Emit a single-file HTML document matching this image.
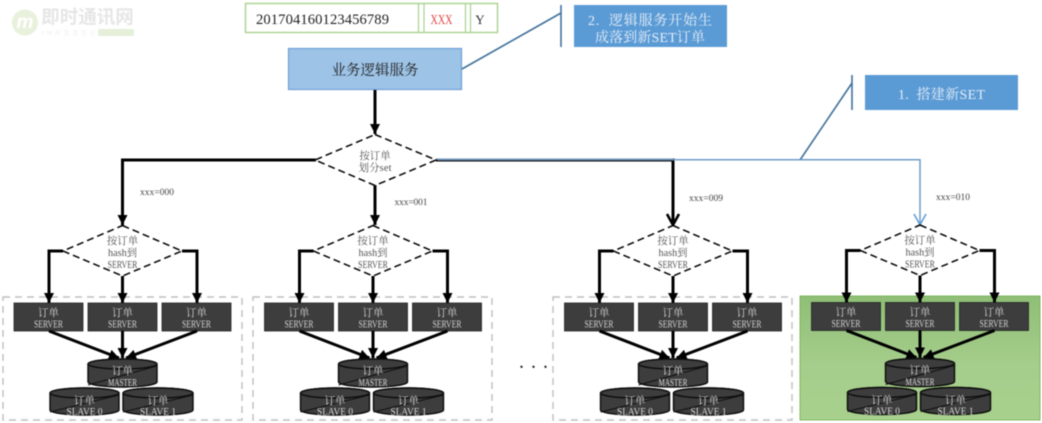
<!DOCTYPE html>
<html><head><meta charset="utf-8"><style>
html,body{margin:0;padding:0;background:#fff;width:1042px;height:423px;overflow:hidden}
svg{display:block;filter:blur(.4px)}
text{font-family:"Liberation Serif","Noto Serif CJK SC",serif;text-anchor:middle}
.sv{fill:#3d3d3d;stroke:#222;stroke-width:.8}
.st{fill:#d4d4d4;font-size:10.5px}
.dt{fill:#555;font-size:10.5px}
.cy{fill:#3d3d3d;stroke:#0c0c0c;stroke-width:1.4}
.ct{fill:#d8d8d8;font-size:10.5px}
.th{fill:none;stroke:#000;stroke-width:3}
.dm{fill:#fff;stroke:#000;stroke-width:1.5;stroke-dasharray:7 4}
.lb{fill:#444;font-size:9.5px}
</style></head><body>
<svg width="1042" height="423" viewBox="0 0 1042 423" xmlns="http://www.w3.org/2000/svg">
<defs>
<marker id="a" markerUnits="userSpaceOnUse" markerWidth="11" markerHeight="12" refX="10" refY="6" orient="auto"><path d="M0 1L10 6L0 11Z" fill="#000"/></marker>
<marker id="b" markerUnits="userSpaceOnUse" markerWidth="13" markerHeight="14" refX="12" refY="7" orient="auto"><path d="M1 1L12 7L1 13" fill="none" stroke="#5b9bd5" stroke-width="1.5"/></marker>
<marker id="c" markerUnits="userSpaceOnUse" markerWidth="13" markerHeight="14" refX="12" refY="7" orient="auto"><path d="M1 1L12 7L1 13" fill="none" stroke="#000" stroke-width="2.6"/></marker>
<linearGradient id="g" x1="0" y1="0" x2="0" y2="1"><stop offset="0" stop-color="#8fbf77"/><stop offset=".55" stop-color="#a5cd8b"/><stop offset="1" stop-color="#a9d18e"/></linearGradient>
</defs>

<!-- logo -->
<g>
<circle cx="25" cy="22.500" r="13" fill="#e8f1dc"/>
<text x="25" y="28" style="font-family:'Liberation Sans',sans-serif;font-size:19px;font-weight:bold;font-style:italic" fill="#fff">m</text>
<text x="87.500" y="23.500" style="font-family:'Liberation Sans','Noto Sans CJK SC',sans-serif;font-size:18.500px;font-weight:bold" fill="#e6e6e6">即时通讯网</text>
<text x="69" y="35" style="font-size:6.500px" fill="#eeeeee" textLength="54" lengthAdjust="spacing">IM开发者社区</text>
<rect x="98" y="29" width="36" height="7" rx="2" fill="#e6efd9"/>
</g>

<!-- order id -->
<rect x="245.500" y="3.500" width="252" height="29" fill="#fff" stroke="#a9d18e" stroke-width="1.4"/>
<path d="M418.500 3.500V32.500M424 3.500V32.500M465.500 3.500V32.500M470.500 3.500V32.500" stroke="#a9d18e" stroke-width="1.200" fill="none"/>
<text x="322.500" y="24" font-size="14.600" fill="#222" textLength="133">201704160123456789</text>
<text x="441.500" y="24" font-size="13.500" fill="#e04040" textLength="22" lengthAdjust="spacingAndGlyphs">XXX</text>
<text x="480" y="24" font-size="13" fill="#333">Y</text>

<!-- service -->
<rect x="288.500" y="48.500" width="173" height="41" fill="#9dc3e6" stroke="#6f9fd8" stroke-width="1.200"/>
<text x="375" y="75" font-size="14.500" fill="#222">业务逻辑服务</text>

<!-- callouts -->
<path d="M462 69L561 13M561 5V47" fill="none" stroke="#41719c" stroke-width="1.600"/>
<rect x="574" y="5" width="153" height="42" fill="#5b9bd5"/>
<text x="650" y="25" font-size="14" fill="#e6eef8" xml:space="preserve" textLength="124" lengthAdjust="spacing">2.  逻辑服务开始生</text>
<text x="650" y="42" font-size="14" fill="#e6eef8" textLength="110" lengthAdjust="spacing">成落到新SET订单</text>
<path d="M800 160L852 83M852 75V110" fill="none" stroke="#41719c" stroke-width="1.600"/>
<rect x="865" y="75" width="153" height="35" fill="#5b9bd5"/>
<text x="941.500" y="99" font-size="14" fill="#e6eef8" xml:space="preserve" textLength="87" lengthAdjust="spacing">1.  搭建新SET</text>

<!-- top connectors -->
<path class="th" d="M375 90V134" marker-end="url(#a)"/>
<path class="th" d="M316 160H122.500V225" marker-end="url(#a)"/>
<path class="th" d="M375 185V225" marker-end="url(#a)"/>
<path class="th" d="M436 160H673V225" marker-end="url(#c)"/>
<path d="M436 159.500H673" stroke="#6d90b5" stroke-width="2" fill="none"/>
<path d="M673 159.800H920V225" fill="none" stroke="#6d9cc8" stroke-width="1.500" marker-end="url(#b)"/>
<path class="dm" d="M375 134.500L436 160L375 185.500L315 160Z"/>
<text class="dt" x="375" y="159">按订单</text>
<text class="dt" x="375" y="171" textLength="33" lengthAdjust="spacing">划分set</text>

<text class="lb" x="157" y="195" textLength="34">xxx=000</text>
<text class="lb" x="411" y="205" textLength="33">xxx=001</text>
<text class="lb" x="706" y="201" textLength="34">xxx=009</text>
<text class="lb" x="953" y="200" textLength="34">xxx=010</text>

<!-- ... -->
<text x="537" y="368" font-size="20" fill="#222" letter-spacing="7">...</text>

<!-- Panel backgrounds -->
<rect x="3" y="297" width="239" height="123" fill="none" stroke="#bfbfbf" stroke-width="1.400" stroke-dasharray="7 5"/>
<rect x="253" y="297" width="239" height="123" fill="none" stroke="#bfbfbf" stroke-width="1.400" stroke-dasharray="7 5"/>
<rect x="553" y="297" width="239" height="123" fill="none" stroke="#bfbfbf" stroke-width="1.400" stroke-dasharray="7 5"/>
<rect x="800" y="296" width="240" height="124" fill="url(#g)" stroke="#70ad47" stroke-width=".8"/>

<!-- Cluster 1 -->
<g transform="translate(0 0)">
<path class="th" d="M63 251H49V303" marker-end="url(#a)"/><path class="th" d="M122.500 276V303" marker-end="url(#a)"/><path class="th" d="M182 251H197V303" marker-end="url(#a)"/>
<path class="dm" d="M122.500 225.500L182 251L122.500 276L63 251Z"/>
<text class="dt" x="122.500" y="244">按订单</text><text class="dt" x="122.500" y="256" textLength="29" lengthAdjust="spacingAndGlyphs">hash到</text><text class="dt" x="122.500" y="268" textLength="30" lengthAdjust="spacingAndGlyphs">SERVER</text>
<rect class="sv" x="14" y="303" width="69" height="28"/><rect class="sv" x="88" y="303" width="69" height="28"/><rect class="sv" x="162" y="303" width="69" height="28"/>
<text class="st" x="48.500" y="316">订单</text><text class="st" x="48.500" y="327.500" textLength="29" lengthAdjust="spacingAndGlyphs">SERVER</text>
<text class="st" x="122.500" y="316">订单</text><text class="st" x="122.500" y="327.500" textLength="29" lengthAdjust="spacingAndGlyphs">SERVER</text>
<text class="st" x="196.500" y="316">订单</text><text class="st" x="196.500" y="327.500" textLength="29" lengthAdjust="spacingAndGlyphs">SERVER</text>
<path class="th" d="M49 331L119 358" marker-end="url(#a)"/><path class="th" d="M122.500 331V358" marker-end="url(#a)"/><path class="th" d="M197 331L126 358" marker-end="url(#a)"/>
<path class="cy" d="M88 364V382A34.500 5 0 0 0 157 382V364A34.500 5 0 0 0 88 364Z"/><ellipse class="cy" cx="122.500" cy="364" rx="34.500" ry="5"/><path d="M88 385L157 366" stroke="#111" fill="none"/>
<text class="ct" x="122.500" y="374">订单</text><text class="ct" x="122.500" y="386" textLength="29" lengthAdjust="spacingAndGlyphs">MASTER</text>
<path class="cy" d="M50 393V410A34.500 5 0 0 0 119 410V393A34.500 5 0 0 0 50 393Z"/><ellipse class="cy" cx="84.500" cy="393" rx="34.500" ry="5"/><path d="M50 412L119 395" stroke="#111" fill="none"/>
<text class="ct" x="84.500" y="404">订单</text><text class="ct" x="84.500" y="415" textLength="36" lengthAdjust="spacingAndGlyphs">SLAVE 0</text>
<path class="cy" d="M123 393V410A35 5 0 0 0 193 410V393A35 5 0 0 0 123 393Z"/><ellipse class="cy" cx="158" cy="393" rx="35" ry="5"/><path d="M123 412L193 395" stroke="#111" fill="none"/>
<text class="ct" x="158" y="404">订单</text><text class="ct" x="158" y="415" textLength="36" lengthAdjust="spacingAndGlyphs">SLAVE 1</text>
</g>

<!-- Cluster 2 -->
<g transform="translate(250.500 0)">
<path class="th" d="M63 251H49V303" marker-end="url(#a)"/><path class="th" d="M122.500 276V303" marker-end="url(#a)"/><path class="th" d="M182 251H197V303" marker-end="url(#a)"/>
<path class="dm" d="M122.500 225.500L182 251L122.500 276L63 251Z"/>
<text class="dt" x="122.500" y="244">按订单</text><text class="dt" x="122.500" y="256" textLength="29" lengthAdjust="spacingAndGlyphs">hash到</text><text class="dt" x="122.500" y="268" textLength="30" lengthAdjust="spacingAndGlyphs">SERVER</text>
<rect class="sv" x="14" y="303" width="69" height="28"/><rect class="sv" x="88" y="303" width="69" height="28"/><rect class="sv" x="162" y="303" width="69" height="28"/>
<text class="st" x="48.500" y="316">订单</text><text class="st" x="48.500" y="327.500" textLength="29" lengthAdjust="spacingAndGlyphs">SERVER</text>
<text class="st" x="122.500" y="316">订单</text><text class="st" x="122.500" y="327.500" textLength="29" lengthAdjust="spacingAndGlyphs">SERVER</text>
<text class="st" x="196.500" y="316">订单</text><text class="st" x="196.500" y="327.500" textLength="29" lengthAdjust="spacingAndGlyphs">SERVER</text>
<path class="th" d="M49 331L119 358" marker-end="url(#a)"/><path class="th" d="M122.500 331V358" marker-end="url(#a)"/><path class="th" d="M197 331L126 358" marker-end="url(#a)"/>
<path class="cy" d="M88 364V382A34.500 5 0 0 0 157 382V364A34.500 5 0 0 0 88 364Z"/><ellipse class="cy" cx="122.500" cy="364" rx="34.500" ry="5"/><path d="M88 385L157 366" stroke="#111" fill="none"/>
<text class="ct" x="122.500" y="374">订单</text><text class="ct" x="122.500" y="386" textLength="29" lengthAdjust="spacingAndGlyphs">MASTER</text>
<path class="cy" d="M50 393V410A34.500 5 0 0 0 119 410V393A34.500 5 0 0 0 50 393Z"/><ellipse class="cy" cx="84.500" cy="393" rx="34.500" ry="5"/><path d="M50 412L119 395" stroke="#111" fill="none"/>
<text class="ct" x="84.500" y="404">订单</text><text class="ct" x="84.500" y="415" textLength="36" lengthAdjust="spacingAndGlyphs">SLAVE 0</text>
<path class="cy" d="M123 393V410A35 5 0 0 0 193 410V393A35 5 0 0 0 123 393Z"/><ellipse class="cy" cx="158" cy="393" rx="35" ry="5"/><path d="M123 412L193 395" stroke="#111" fill="none"/>
<text class="ct" x="158" y="404">订单</text><text class="ct" x="158" y="415" textLength="36" lengthAdjust="spacingAndGlyphs">SLAVE 1</text>
</g>

<!-- Cluster 3 -->
<g transform="translate(550.500 0)">
<path class="th" d="M63 251H49V303" marker-end="url(#a)"/><path class="th" d="M122.500 276V303" marker-end="url(#a)"/><path class="th" d="M182 251H197V303" marker-end="url(#a)"/>
<path class="dm" d="M122.500 225.500L182 251L122.500 276L63 251Z"/>
<text class="dt" x="122.500" y="244">按订单</text><text class="dt" x="122.500" y="256" textLength="29" lengthAdjust="spacingAndGlyphs">hash到</text><text class="dt" x="122.500" y="268" textLength="30" lengthAdjust="spacingAndGlyphs">SERVER</text>
<rect class="sv" x="14" y="303" width="69" height="28"/><rect class="sv" x="88" y="303" width="69" height="28"/><rect class="sv" x="162" y="303" width="69" height="28"/>
<text class="st" x="48.500" y="316">订单</text><text class="st" x="48.500" y="327.500" textLength="29" lengthAdjust="spacingAndGlyphs">SERVER</text>
<text class="st" x="122.500" y="316">订单</text><text class="st" x="122.500" y="327.500" textLength="29" lengthAdjust="spacingAndGlyphs">SERVER</text>
<text class="st" x="196.500" y="316">订单</text><text class="st" x="196.500" y="327.500" textLength="29" lengthAdjust="spacingAndGlyphs">SERVER</text>
<path class="th" d="M49 331L119 358" marker-end="url(#a)"/><path class="th" d="M122.500 331V358" marker-end="url(#a)"/><path class="th" d="M197 331L126 358" marker-end="url(#a)"/>
<path class="cy" d="M88 364V382A34.500 5 0 0 0 157 382V364A34.500 5 0 0 0 88 364Z"/><ellipse class="cy" cx="122.500" cy="364" rx="34.500" ry="5"/><path d="M88 385L157 366" stroke="#111" fill="none"/>
<text class="ct" x="122.500" y="374">订单</text><text class="ct" x="122.500" y="386" textLength="29" lengthAdjust="spacingAndGlyphs">MASTER</text>
<path class="cy" d="M50 393V410A34.500 5 0 0 0 119 410V393A34.500 5 0 0 0 50 393Z"/><ellipse class="cy" cx="84.500" cy="393" rx="34.500" ry="5"/><path d="M50 412L119 395" stroke="#111" fill="none"/>
<text class="ct" x="84.500" y="404">订单</text><text class="ct" x="84.500" y="415" textLength="36" lengthAdjust="spacingAndGlyphs">SLAVE 0</text>
<path class="cy" d="M123 393V410A35 5 0 0 0 193 410V393A35 5 0 0 0 123 393Z"/><ellipse class="cy" cx="158" cy="393" rx="35" ry="5"/><path d="M123 412L193 395" stroke="#111" fill="none"/>
<text class="ct" x="158" y="404">订单</text><text class="ct" x="158" y="415" textLength="36" lengthAdjust="spacingAndGlyphs">SLAVE 1</text>
</g>

<!-- Cluster 4 -->
<g transform="translate(797.500 -0.500)">
<path class="th" d="M63 251H49V303" marker-end="url(#a)"/><path class="th" d="M122.500 276V303" marker-end="url(#a)"/><path class="th" d="M182 251H197V303" marker-end="url(#a)"/>
<path class="dm" d="M122.500 225.500L182 251L122.500 276L63 251Z"/>
<text class="dt" x="122.500" y="244">按订单</text><text class="dt" x="122.500" y="256" textLength="29" lengthAdjust="spacingAndGlyphs">hash到</text><text class="dt" x="122.500" y="268" textLength="30" lengthAdjust="spacingAndGlyphs">SERVER</text>
<rect class="sv" x="14" y="303" width="69" height="28"/><rect class="sv" x="88" y="303" width="69" height="28"/><rect class="sv" x="162" y="303" width="69" height="28"/>
<text class="st" x="48.500" y="316">订单</text><text class="st" x="48.500" y="327.500" textLength="29" lengthAdjust="spacingAndGlyphs">SERVER</text>
<text class="st" x="122.500" y="316">订单</text><text class="st" x="122.500" y="327.500" textLength="29" lengthAdjust="spacingAndGlyphs">SERVER</text>
<text class="st" x="196.500" y="316">订单</text><text class="st" x="196.500" y="327.500" textLength="29" lengthAdjust="spacingAndGlyphs">SERVER</text>
<path class="th" d="M49 331L119 358" marker-end="url(#a)"/><path class="th" d="M122.500 331V358" marker-end="url(#a)"/><path class="th" d="M197 331L126 358" marker-end="url(#a)"/>
<path class="cy" d="M88 364V382A34.500 5 0 0 0 157 382V364A34.500 5 0 0 0 88 364Z"/><ellipse class="cy" cx="122.500" cy="364" rx="34.500" ry="5"/><path d="M88 385L157 366" stroke="#111" fill="none"/>
<text class="ct" x="122.500" y="374">订单</text><text class="ct" x="122.500" y="386" textLength="29" lengthAdjust="spacingAndGlyphs">MASTER</text>
<path class="cy" d="M50 393V410A34.500 5 0 0 0 119 410V393A34.500 5 0 0 0 50 393Z"/><ellipse class="cy" cx="84.500" cy="393" rx="34.500" ry="5"/><path d="M50 412L119 395" stroke="#111" fill="none"/>
<text class="ct" x="84.500" y="404">订单</text><text class="ct" x="84.500" y="415" textLength="36" lengthAdjust="spacingAndGlyphs">SLAVE 0</text>
<path class="cy" d="M123 393V410A35 5 0 0 0 193 410V393A35 5 0 0 0 123 393Z"/><ellipse class="cy" cx="158" cy="393" rx="35" ry="5"/><path d="M123 412L193 395" stroke="#111" fill="none"/>
<text class="ct" x="158" y="404">订单</text><text class="ct" x="158" y="415" textLength="36" lengthAdjust="spacingAndGlyphs">SLAVE 1</text>
</g>
</svg>
</body></html>
